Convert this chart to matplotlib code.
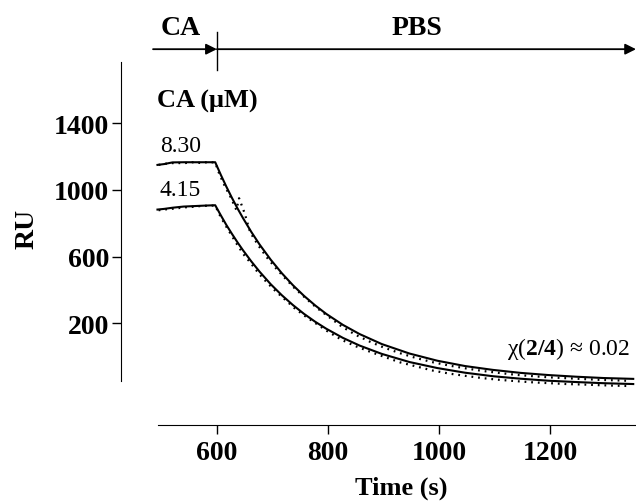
import matplotlib
matplotlib.use('Agg')
import matplotlib.pyplot as plt

plt.rcParams['font.family'] = ['Liberation Serif', 'DejaVu Serif']
plt.rcParams['mathtext.fontset'] = 'custom'
plt.rcParams['mathtext.rm'] = 'Liberation Serif'
plt.rcParams['mathtext.bf'] = 'Liberation Serif:bold'

# fitted curves (solid)
t_fit = [493, 505, 520, 540, 560, 580, 597, 607, 617, 627, 637, 647, 662, 677, 697,
         717, 737, 757, 777, 797, 827, 857, 897, 947, 997, 1047, 1097, 1147, 1197,
         1247, 1297, 1350]
fit_830 = [1150, 1155, 1165, 1166, 1166, 1166, 1166, 1091, 1020, 953, 890, 831, 748,
           672, 581, 500, 428, 364, 307, 256, 190, 135, 75, 18, -25, -57, -80, -98,
           -111, -121, -129, -134]
fit_415 = [882, 886, 893, 900, 903, 906, 908, 848, 790, 737, 686, 638, 571, 509, 434,
           368, 309, 256, 209, 167, 112, 66, 16, -33, -69, -97, -118, -133, -145,
           -153, -160, -165]

# measured data (dotted)
t_dat = [495, 510, 525, 540, 555, 570, 585, 597, 605, 615, 625, 635, 640, 645, 650,
         660, 675, 690, 705, 720, 740, 760, 780, 800, 825, 850, 875, 900, 930, 960,
         990, 1020, 1050, 1080, 1110, 1140, 1170, 1200, 1230, 1260, 1290, 1320, 1345]
dat_830 = [1150, 1158, 1162, 1160, 1166, 1162, 1167, 1164, 1090, 1018, 955, 880, 950,
           905, 860, 745, 665, 595, 535, 480, 410, 350, 292, 242, 180, 130, 90, 55,
           20, -10, -35, -55, -72, -87, -99, -110, -118, -125, -130, -135, -140,
           -143, -146]
dat_415 = [878, 884, 888, 895, 898, 903, 905, 906, 850, 790, 735, 680, 655, 628, 605,
           565, 500, 445, 395, 350, 290, 240, 195, 150, 100, 62, 30, 0, -35, -60,
           -85, -103, -117, -130, -140, -148, -155, -160, -165, -168, -172, -175, -177]

xticks = [600, 800, 1000, 1200]
yticks = [200, 600, 1000, 1400]

fig = plt.figure(figsize=(6.36, 5.02), dpi=100)
ax = fig.add_axes([0.190, 0.151, 0.810, 0.723])

ax.plot(t_fit, fit_830, color='black', lw=1.5)
ax.plot(t_fit, fit_415, color='black', lw=1.5)
ax.plot(t_dat, dat_830, color='black', lw=1.6, ls=(0, (0.8, 2.2)))
ax.plot(t_dat, dat_415, color='black', lw=1.6, ls=(0, (0.8, 2.2)))

ax.set_xlim(427, 1355)
ax.set_ylim(-412, 1766)
ax.spines['top'].set_visible(False)
ax.spines['right'].set_visible(False)
ax.spines['left'].set_bounds(-148, 1766)
ax.spines['bottom'].set_bounds(494, 1355)
ax.set_xticks(xticks)
ax.set_yticks(yticks)
ax.tick_params(length=6.5, width=1.0, labelsize=20, pad=2)
ax.tick_params(axis='x', pad=4)
for lab in ax.get_xticklabels() + ax.get_yticklabels():
    lab.set_fontweight('bold')
ax.set_xlabel('Time (s)', fontsize=19, fontweight='bold')
ax.set_ylabel('RU', fontsize=20, fontweight='bold')
ax.xaxis.set_label_coords(0.545, -0.138)
ax.yaxis.set_label_coords(-0.158, 0.543)

tr = ax.get_xaxis_transform()
ax.annotate('', xy=(600, 1.036), xytext=(485, 1.036), xycoords=tr, textcoords=tr,
            arrowprops=dict(arrowstyle='-|>', color='black', lw=1.3,
                            mutation_scale=16, shrinkA=0, shrinkB=0),
            annotation_clip=False)
ax.annotate('', xy=(1355, 1.036), xytext=(600, 1.036), xycoords=tr, textcoords=tr,
            arrowprops=dict(arrowstyle='-|>', color='black', lw=1.3,
                            mutation_scale=16, shrinkA=0, shrinkB=0),
            annotation_clip=False)
ax.plot([600, 600], [0.978, 1.083], transform=tr, color='black', lw=1.0, clip_on=False)
ax.text(535, 1.097, 'CA', transform=tr, ha='center', va='center', fontsize=20,
        fontweight='bold')
ax.text(960, 1.097, 'PBS', transform=tr, ha='center', va='center', fontsize=20,
        fontweight='bold')

ax.text(492, 1535, 'CA (μM)', ha='left', va='center', fontsize=19, fontweight='bold')
ax.text(535, 1265, '8.30', ha='center', va='center', fontsize=17)
ax.text(533, 1000, '4.15', ha='center', va='center', fontsize=17)
ax.text(1345, 50, r'χ($\mathbf{2/4}$) ≈ 0.02', ha='right', va='center', fontsize=17)

fig.savefig('out.png', dpi=100)
